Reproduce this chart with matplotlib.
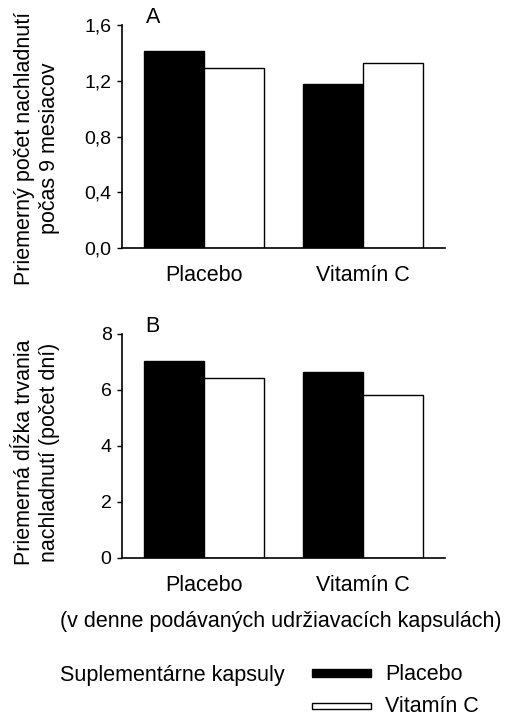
import numpy as np
import matplotlib.pyplot as plt
from matplotlib.patches import Rectangle

plt.rcParams['font.family'] = ['Liberation Sans', 'DejaVu Sans']

# Údaje
skupiny = ["Placebo", "Vitamín C"]
pocet_placebo = [1.41, 1.18]
pocet_vitamin = [1.29, 1.325]
dlzka_placebo = [7.05, 6.65]
dlzka_vitamin = [6.44, 5.83]

W, H = 508, 720
fig = plt.figure(figsize=(W / 100, H / 100), dpi=100)

sirka = 0.377
x = np.arange(len(skupiny))


def panel(rect, placebo, vitamin, ymax, ticks, ticklabels, pismeno):
    ax = fig.add_axes(rect)
    ax.bar(x - sirka / 2, placebo, sirka, color="black", edgecolor="black", linewidth=1.0)
    ax.bar(x + sirka / 2, vitamin, sirka, color="white", edgecolor="black", linewidth=1.0)
    ax.set_xlim(-0.516, 1.516)
    ax.set_ylim(0, ymax)
    ax.set_yticks(ticks)
    ax.set_yticklabels(ticklabels, fontsize=14)
    ax.set_xticks(x)
    ax.set_xticklabels(skupiny, fontsize=15.5)
    ax.tick_params(axis="x", length=0, pad=12.5)
    ax.tick_params(axis="y", length=3.5, width=1, pad=4, direction="out")
    for s in ["top", "right"]:
        ax.spines[s].set_visible(False)
    for s in ["left", "bottom"]:
        ax.spines[s].set_linewidth(1.2)
    ax.text(0.095, 1.035, pismeno, transform=ax.transAxes, fontsize=15.5,
            ha="center", va="center")
    return ax


def fx(px):
    return px / W


def fy(py):
    return 1 - py / H


# Graf A - počet nachladnutí
panel([fx(122), fy(248), fx(445 - 122), (248 - 25) / H],
      pocet_placebo, pocet_vitamin, 1.6,
      [0, 0.4, 0.8, 1.2, 1.6], ["0,0", "0,4", "0,8", "1,2", "1,6"], "A")
fig.text(fx(37), fy(148), "Priemerný počet nachladnutí\npočas 9 mesiacov",
         rotation=90, ha="center", va="center", fontsize=15.5,
         multialignment="center", linespacing=1.3)

# Graf B - dĺžka trvania
panel([fx(122), fy(558), fx(445 - 122), (558 - 334) / H],
      dlzka_placebo, dlzka_vitamin, 8,
      [0, 2, 4, 6, 8], ["0", "2", "4", "6", "8"], "B")
fig.text(fx(37), fy(452), "Priemerná dĺžka trvania\nnachladnutí (počet dní)",
         rotation=90, ha="center", va="center", fontsize=15.5,
         multialignment="center", linespacing=1.3)

fig.text(fx(281), fy(622), "(v denne podávaných udržiavacích kapsulách)",
         ha="center", va="center", fontsize=15.5)

# Legenda
fig.text(fx(60), fy(675), "Suplementárne kapsuly", ha="left", va="center", fontsize=15.5)
fig.add_artist(Rectangle((fx(312), fy(677)), fx(59), 8 / H, transform=fig.transFigure,
                         facecolor="black", edgecolor="black", linewidth=1))
fig.text(fx(385), fy(674), "Placebo", ha="left", va="center", fontsize=15.5)
fig.add_artist(Rectangle((fx(312), fy(709)), fx(59), 6 / H, transform=fig.transFigure,
                         facecolor="white", edgecolor="black", linewidth=1))
fig.text(fx(385), fy(706), "Vitamín C", ha="left", va="center", fontsize=15.5)

fig.savefig("out.png", dpi=100)
